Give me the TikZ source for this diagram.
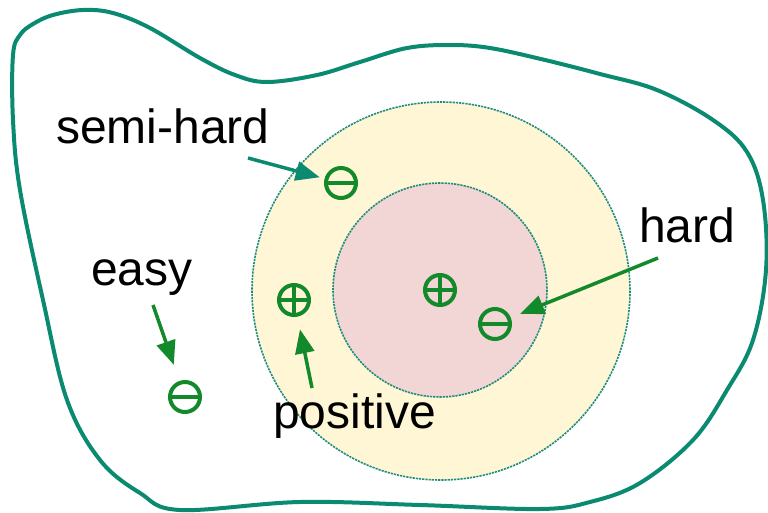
\documentclass[tikz,border=0pt]{standalone}
\usepackage{fontspec}
\setmainfont{Liberation Sans}
\usetikzlibrary{arrows.meta}
\definecolor{blobteal}{HTML}{0B8A72}
\definecolor{ringteal}{HTML}{1E8C7E}
\definecolor{symgreen}{HTML}{12892A}
\definecolor{semifill}{HTML}{FFF6D6}
\definecolor{hardfill}{HTML}{F2D6D6}
\tikzset{
  sample/.style={circle,draw=symgreen,line width=4pt,minimum size=30pt,inner sep=0pt},
  negsym/.style={sample,path picture={\draw[symgreen,line width=4pt] (path picture bounding box.west)--(path picture bounding box.east);}},
  possym/.style={sample,path picture={\draw[symgreen,line width=4pt] (path picture bounding box.west)--(path picture bounding box.east) (path picture bounding box.north)--(path picture bounding box.south);}},
  ring/.style={draw=ringteal,line width=1.6pt,dash pattern=on 2.2pt off 1pt},
  pointer/.style={-{Triangle[length=24pt,width=19pt]},line width=3.5pt,draw=symgreen},
  tag/.style={anchor=base west,inner sep=0pt}
}

\begin{document}
\begin{tikzpicture}[x=1pt,y=-1pt,font=\fontsize{48}{56}\selectfont]
\useasboundingbox (0,0) rectangle (768,512);
\draw[blobteal,line width=4pt] plot[smooth cycle,tension=0.6] coordinates {
(13,55) (20,35) (33,24) (53,15) (83,10) (113,13) (150,28) (200,58) (235,75) (267,82)
(317,75) (360,62) (407,48) (450,45) (490,48) (545,60) (600,74) (657,90) (713,120) (747,152)
(763,200) (766,270) (753,340) (727,390) (693,440) (640,483) (590,502) (540,509) (420,505) (300,502)
(180,510) (140,493) (100,460) (67,400) (43,300) (20,190) (13,120)};
\draw[ring,fill=semifill] (441,291) circle (189);
\draw[ring,fill=hardfill] (440,290) circle (107);
\foreach \name/\x/\y/\kind in {semi/341/183/negsym,easy/185/397/negsym,pos/294/300/possym,core/440/290/possym,hard/495/324/negsym}
  \node[\kind] (\name) at (\x,\y) {};
\node[tag] (lsemi) at (56,143) {semi-hard};
\node[tag] (leasy) at (91,285) {easy};
\node[tag] (lpos) at (273,428) {positive};
\node[tag] (lhard) at (639,242) {hard};
\coordinate (tsemi) at (248,158);
\coordinate (teasy) at (153,305);
\coordinate (tpos) at (312,388);
\coordinate (thard) at (658,258);
\draw[pointer,draw=blobteal,fill=blobteal,shorten >=5pt] (tsemi) -- (semi);
\draw[pointer,shorten >=17pt] (teasy) -- (easy);
\draw[pointer,shorten >=13pt] (tpos) -- (pos);
\draw[pointer,shorten >=10pt] (thard) -- (hard);
\end{tikzpicture}
\end{document}
